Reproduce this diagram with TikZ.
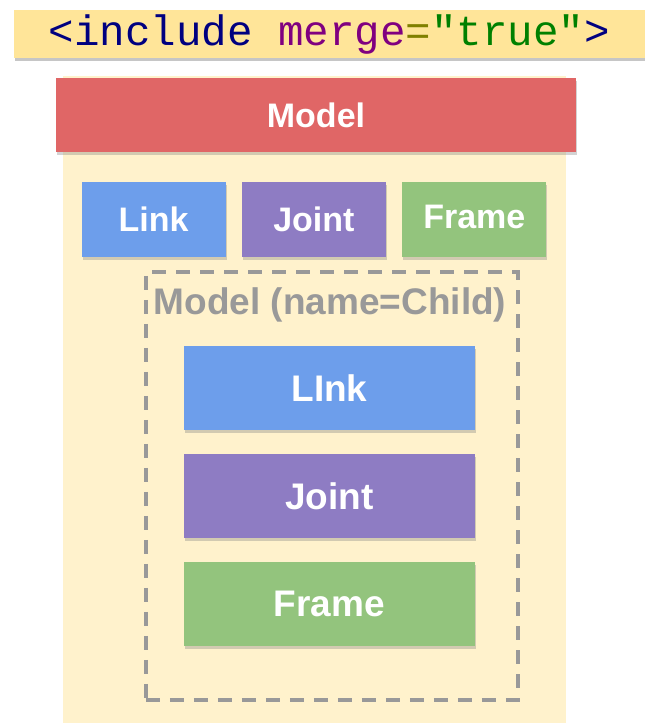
\documentclass[tikz,border=0pt]{standalone}
\usepackage{fontspec}
\setmainfont{Liberation Sans}
\setmonofont{Liberation Mono}
\usetikzlibrary{positioning, shadows}

\definecolor{baryellow}{HTML}{FFE599}
\definecolor{bodyyellow}{HTML}{FFF2CC}
\definecolor{modelred}{HTML}{E06666}
\definecolor{linkblue}{HTML}{6D9EEB}
\definecolor{jointpurple}{HTML}{8E7CC3}
\definecolor{framegreen}{HTML}{93C47D}
\definecolor{childgray}{HTML}{999999}
\definecolor{tagnavy}{HTML}{000080}
\definecolor{attrpurple}{HTML}{800080}
\definecolor{eqolive}{HTML}{808000}
\definecolor{valgreen}{HTML}{008000}

\tikzset{
  softshadow/.style={drop shadow={shadow xshift=1pt, shadow yshift=-3pt, opacity=0.35}},
  part/.style={fill=#1, text=white, inner sep=0pt, softshadow,
    font=\bfseries\fontsize{34}{40}\selectfont},
  smallpart/.style={part=#1, minimum width=144pt, minimum height=75pt},
  bigpart/.style={part=#1, minimum width=291pt, minimum height=84pt,
    font=\bfseries\fontsize{37}{44}\selectfont},
}

\begin{document}
\begin{tikzpicture}[x=1pt, y=-1pt]
      \useasboundingbox (0,0) rectangle (645,723);
      % include tag
      \node[fill=baryellow, drop shadow={shadow xshift=1pt, shadow yshift=-3pt, opacity=0.45}, anchor=north west,
        minimum width=640pt, minimum height=48pt, inner sep=0pt,
        font=\ttfamily\fontsize{42.5}{48}\selectfont] (tag) at (14,10)
        {\hspace*{-10pt}\textcolor{tagnavy}{<include} \textcolor{attrpurple}{merge}\textcolor{eqolive}{=}\textcolor{valgreen}{"true"}\textcolor{tagnavy}{>}};
      % parent model
      \node[fill=bodyyellow, anchor=north west, minimum width=503pt, minimum height=650pt, inner sep=0pt,
        drop shadow={shadow xshift=0pt, shadow yshift=-1pt, opacity=0.3}] (body) at (63,76) {};
      \node[part=modelred, anchor=north, minimum width=520pt, minimum height=74pt] (model) at (316,78) {Model};
      \node[smallpart=linkblue] (link) at (153.5,219.5) {Link};
      \node[smallpart=jointpurple, right=16pt of link] (joint) {Joint};
      \node[smallpart=framegreen, right=16pt of joint] (frame) {\raisebox{6pt}{Frame}};
      % child model
      \node[draw=childgray, line width=3.5pt, dash pattern=on 14pt off 10pt, anchor=north west,
        minimum width=372pt, minimum height=428pt, inner sep=0pt] (child) at (144,270) {};
      \node[text=childgray, font=\bfseries\fontsize{37}{42}\selectfont, inner sep=0pt] (childname) at (330,305) {Model (name=Child)};
      \node[bigpart=linkblue] (childlink) at (329.5,388) {LInk};
      \node[bigpart=jointpurple, below=24pt of childlink] (childjoint) {Joint};
      \node[bigpart=framegreen, below=23pt of childjoint] (childframe) {Frame};
\end{tikzpicture}
\end{document}
